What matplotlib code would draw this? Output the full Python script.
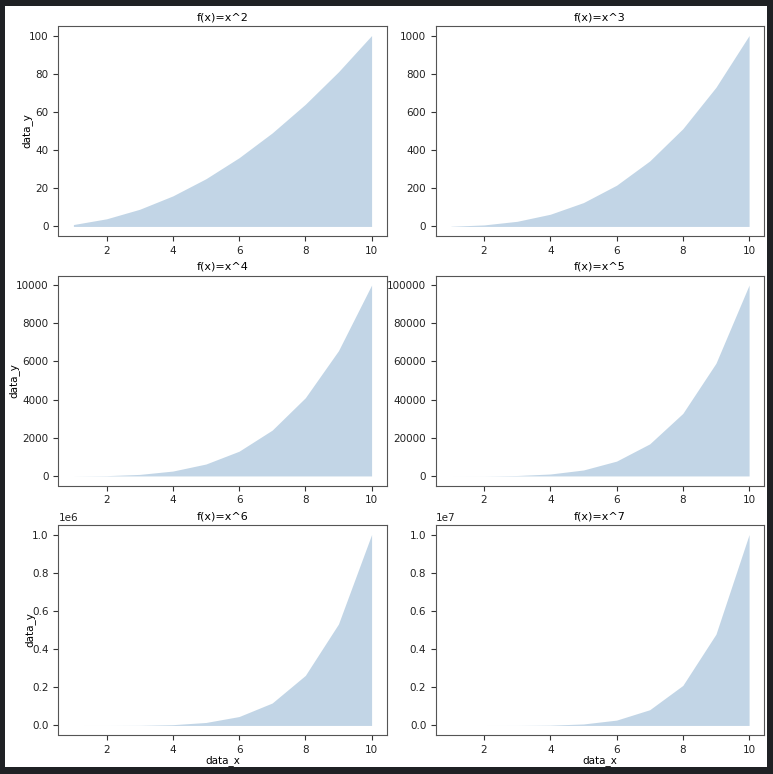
import matplotlib
matplotlib.use("Agg")
import matplotlib.pyplot as plt
from matplotlib.patches import Rectangle

# x 값과 각 거듭제곱 값
data_x = [1, 2, 3, 4, 5, 6, 7, 8, 9, 10]
y_pow2 = [1, 4, 9, 16, 25, 36, 49, 64, 81, 100]
y_pow3 = [1, 8, 27, 64, 125, 216, 343, 512, 729, 1000]
y_pow4 = [1, 16, 81, 256, 625, 1296, 2401, 4096, 6561, 10000]
y_pow5 = [1, 32, 243, 1024, 3125, 7776, 16807, 32768, 59049, 100000]
y_pow6 = [1, 64, 729, 4096, 15625, 46656, 117649, 262144, 531441, 1000000]
y_pow7 = [1, 128, 2187, 16384, 78125, 279936, 823543, 2097152, 4782969, 10000000]
titles = ["f(x)=x^2", "f(x)=x^3", "f(x)=x^4", "f(x)=x^5", "f(x)=x^6", "f(x)=x^7"]
series = [y_pow2, y_pow3, y_pow4, y_pow5, y_pow6, y_pow7]

W, H = 773, 774
plt.rcParams["font.size"] = 7.5

fig = plt.figure(figsize=(W / 100, H / 100), dpi=100, facecolor="#1f2124")
# 흰 바탕 (노트북 출력 영역)
fig.patches.append(Rectangle((5 / W, 1 - 767 / H), 762 / W, 761 / H,
                             transform=fig.transFigure, facecolor="white",
                             edgecolor="none", zorder=-10))

col_left = [58.5, 436.0]
col_w = 328.0
row_top = [26.0, 275.5, 525.0]
row_h = 210.0

for i, (ys, title) in enumerate(zip(series, titles)):
    r, c = divmod(i, 2)
    rect = [col_left[c] / W, 1 - (row_top[r] + row_h) / H, col_w / W, row_h / H]
    ax = fig.add_axes(rect)
    ax.fill_between(data_x, ys, color="steelblue", alpha=0.33, linewidth=0)
    ax.set_title(title, fontsize=8, pad=4)
    ax.set_xticks([2, 4, 6, 8, 10])
    for sp in ax.spines.values():
        sp.set_color("#555555")
    ax.tick_params(colors="#333333", labelcolor="#222222", labelsize=7.5)
    if c == 0:
        ax.set_ylabel("data_y", fontsize=7.5, labelpad=-2.5)
    if r == 2:
        ax.set_xlabel("data_x", fontsize=7.5, labelpad=0)

fig.savefig("out.png", dpi=100, facecolor=fig.get_facecolor())
